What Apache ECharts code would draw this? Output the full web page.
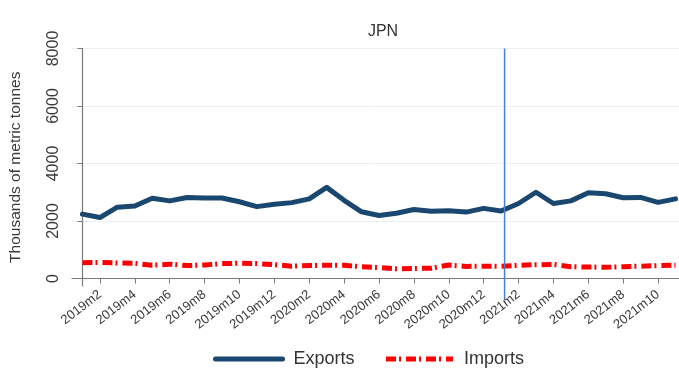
<!DOCTYPE html>
<html>
<head>
<meta charset="utf-8">
<script src="https://cdn.jsdelivr.net/npm/echarts@6/dist/echarts.min.js"></script>
<style>
  html, body { margin: 0; padding: 0; background: #fff; }
  #chart { width: 679px; height: 368px; }
</style>
</head>
<body>
<div id="chart"></div>
<script>
// Monthly trade volumes, Japan (thousands of metric tonnes)
const months = [
  '2019m1','2019m2','2019m3','2019m4','2019m5','2019m6','2019m7','2019m8','2019m9','2019m10','2019m11','2019m12',
  '2020m1','2020m2','2020m3','2020m4','2020m5','2020m6','2020m7','2020m8','2020m9','2020m10','2020m11','2020m12',
  '2021m1','2021m2','2021m3','2021m4','2021m5','2021m6','2021m7','2021m8','2021m9','2021m10','2021m11'
];
const exportsT = [
  2240, 2120, 2480, 2520, 2790, 2700, 2820, 2800, 2800, 2670, 2500, 2580,
  2640, 2770, 3170, 2720, 2320, 2190, 2270, 2400, 2340, 2360, 2310, 2440,
  2350, 2610, 3000, 2610, 2700, 2980, 2950, 2810, 2820, 2650, 2770
];
const importsT = [
  550, 560, 540, 530, 460, 500, 450, 470, 520, 530, 520, 480,
  430, 450, 460, 460, 410, 380, 340, 350, 360, 470, 420, 430,
  430, 460, 480, 490, 410, 400, 390, 410, 430, 450, 460
];
const xTickLabels = ['2019m2','2019m4','2019m6','2019m8','2019m10','2019m12','2020m2','2020m4','2020m6',
  '2020m8','2020m10','2020m12','2021m2','2021m4','2021m6','2021m8','2021m10'];
const yTickValues = [0, 2000, 4000, 6000, 8000];
// vertical reference line: position in months from 2019m1, and its vertical extent
const markerMonth = 24.2;
const markerSpan = [8000, -750];

const xTickPos = xTickLabels.map(l => months.indexOf(l));
const txt = '#3a3a3a';
const axisGray = '#7a7a7a';

const chart = echarts.init(document.getElementById('chart'), null, { renderer: 'canvas' });
chart.setOption({
  animation: false,
  backgroundColor: '#fff',
  title: {
    text: 'JPN', left: 378, top: 19, textAlign: 'center',
    textStyle: { fontFamily: 'Liberation Sans', fontSize: 16, fontWeight: 'normal', color: '#333' }
  },
  grid: { left: 70, right: 0, top: 48.5, bottom: 82, containLabel: false },
  legend: {
    data: ['Exports', 'Imports'],
    left: 213, top: 350, padding: 0,
    itemWidth: 67, itemHeight: 10, itemGap: 29,
    itemStyle: { opacity: 0 },
    lineStyle: { width: 5 },
    textStyle: { fontFamily: 'Liberation Sans', fontSize: 18, color: '#333', padding: [0, 0, 0, 6] }
  },
  xAxis: {
    type: 'value',
    min: -0.6, max: 34.2,
    axisLine: { show: true, lineStyle: { color: axisGray, width: 1.2 } },
    axisTick: { show: true, customValues: xTickPos, length: 5, lineStyle: { color: axisGray } },
    splitLine: { show: false },
    axisLabel: {
      customValues: xTickPos, rotate: 38, margin: 7,
      fontFamily: 'Liberation Sans', fontSize: 13, color: txt,
      formatter: v => months[Math.round(v)] || ''
    }
  },
  yAxis: {
    type: 'value',
    min: -260, max: 8000,
    name: 'Thousands of metric tonnes', nameLocation: 'middle', nameGap: 48, nameRotate: 90,
    nameTextStyle: { fontFamily: 'Liberation Sans', fontSize: 15.5, color: txt },
    axisLine: { show: true, lineStyle: { color: axisGray, width: 1.2 } },
    axisTick: { show: true, customValues: yTickValues, length: 5, lineStyle: { color: axisGray } },
    splitLine: { show: true, lineStyle: { color: '#e9eef2', width: 1 } },
    axisLabel: {
      customValues: yTickValues, rotate: 90, margin: 10,
      fontFamily: 'Liberation Sans', fontSize: 16, color: txt,
      formatter: v => String(v)
    }
  },
  series: [
    {
      name: 'Exports', type: 'line', showSymbol: false, symbol: 'none', clip: false,
      data: exportsT.map((v, i) => [i, v]),
      lineStyle: { color: '#1a476f', width: 5, cap: 'round', join: 'round' },
      itemStyle: { color: '#1a476f' },
      z: 3
    },
    {
      name: 'Imports', type: 'line', showSymbol: false, symbol: 'none', clip: false,
      data: importsT.map((v, i) => [i, v]),
      lineStyle: { color: '#ff0000', width: 5, type: [10, 3, 2, 5], cap: 'butt' },
      itemStyle: { color: '#ff0000' },
      z: 2
    },
    {
      name: 'marker', type: 'line', showSymbol: false, symbol: 'none', clip: false, silent: true,
      data: markerSpan.map(v => [markerMonth, v]),
      lineStyle: { color: '#4a7fcc', width: 1.5 },
      z: 4
    }
  ]
});
</script>
</body>
</html>
